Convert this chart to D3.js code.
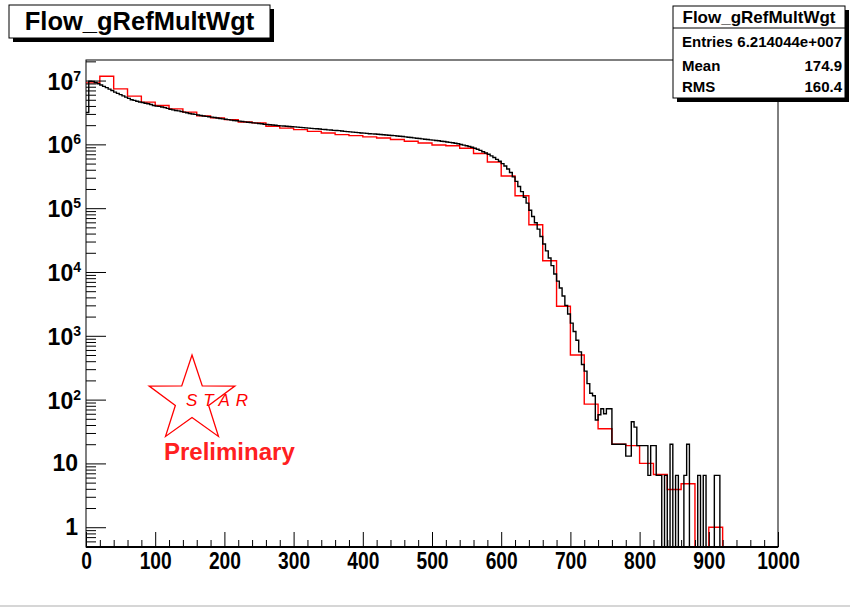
<!DOCTYPE html>
<html>
<head>
<meta charset="utf-8">
<script src="https://cdn.jsdelivr.net/npm/d3@7"></script>
<style>
body { margin: 0; background: #fff; }
text { font-family: "Liberation Sans", Arial, sans-serif; font-weight: bold; }
</style>
</head>
<body>
<script>
// black histogram, 250 bins of width 4 over 0..1000
var blackBinWidth = 4;
var blackCounts = [
  3.16e6, 9.77e6, 9.7e6, 9.33e6, 8.9e6, 8.5e6, 8.1e6, 7.75e6, 7.33e6, 7.0e6,
  6.6e6, 6.3e6, 6.03e6, 5.75e6, 5.5e6, 5.25e6, 5.0e6, 4.9e6, 4.73e6, 4.62e6,
  4.52e6, 4.42e6, 4.32e6, 4.22e6, 4.07e6, 3.98e6, 3.94e6, 3.85e6, 3.76e6, 3.67e6,
  3.55e6, 3.47e6, 3.39e6, 3.35e6, 3.27e6, 3.2e6, 3.13e6, 3.05e6, 3.0e6, 2.95e6,
  2.88e6, 2.84e6, 2.79e6, 2.75e6, 2.71e6, 2.67e6, 2.63e6, 2.59e6, 2.55e6, 2.51e6,
  2.47e6, 2.44e6, 2.40e6, 2.37e6, 2.34e6, 2.31e6, 2.28e6, 2.25e6, 2.22e6, 2.20e6,
  2.17e6, 2.15e6, 2.12e6, 2.10e6, 2.07e6, 2.05e6, 2.03e6, 2.01e6, 1.99e6, 1.97e6,
  1.95e6, 1.94e6, 1.92e6, 1.905e6, 1.89e6, 1.88e6, 1.86e6, 1.845e6, 1.83e6, 1.815e6,
  1.80e6, 1.78e6, 1.766e6, 1.754e6, 1.74e6, 1.72e6, 1.71e6, 1.69e6, 1.68e6, 1.66e6,
  1.65e6, 1.64e6, 1.62e6, 1.60e6, 1.585e6, 1.57e6, 1.556e6, 1.54e6, 1.53e6, 1.51e6,
  1.50e6, 1.486e6, 1.47e6, 1.46e6, 1.45e6, 1.44e6, 1.426e6, 1.416e6, 1.40e6, 1.39e6,
  1.38e6, 1.37e6, 1.355e6, 1.34e6, 1.325e6, 1.31e6, 1.294e6, 1.28e6, 1.265e6, 1.25e6,
  1.233e6, 1.22e6, 1.205e6, 1.19e6, 1.178e6, 1.164e6, 1.15e6, 1.138e6, 1.122e6, 1.107e6,
  1.09e6, 1.076e6, 1.06e6, 1.04e6, 1.02e6, 9.95e5, 9.73e5, 9.5e5, 9.25e5, 9.0e5,
  8.7e5, 8.4e5, 8.04e5, 7.67e5, 7.33e5, 7.0e5, 6.6e5, 6.24e5, 5.82e5, 5.43e5,
  5.0e5, 4.57e5, 4.12e5, 3.63e5, 3.09e5, 2.63e5, 2.19e5, 1.82e5, 1.48e5, 1.2e5,
  9.3e4, 7.4e4, 5.9e4, 4.7e4, 3.6e4, 2.75e4, 2.14e4, 1.66e4, 1.26e4, 9.3e3,
  7.2e3, 5.6e3, 4.2e3, 3.0e3, 2.2e3, 1.58e3, 1.17e3, 850, 560, 355,
  280, 178, 126, 115, 48, 58, 72, 60, 72, 72,
  20, 20, 20, 20, 20, 13, 13, 45, 37, 19,
  19, 19, 19, 6.5, 19, 19, 6.5, 6.5, 0, 6.5,
  0, 20, 0, 6.5, 0, 0, 6.5, 20, 0, 0,
  0, 6.5, 0, 6.5, 0, 0, 0, 6.5, 6.5, 0,
  0, 0, 0, 0, 0, 0, 0, 0, 0, 0,
  0, 0, 0, 0, 0, 0, 0, 0, 0, 0
];

// red histogram, 50 bins of width 20
var redBinWidth = 20;
var redCounts = [
  9.2e6, 1.17e7, 7.4e6, 5.7e6, 4.6e6, 4.06e6, 3.6e6, 3.2e6, 2.8e6, 2.6e6,
  2.44e6, 2.24e6, 2.17e6, 1.92e6, 1.8e6, 1.7e6, 1.6e6, 1.51e6, 1.42e6, 1.37e6,
  1.31e6, 1.26e6, 1.19e6, 1.12e6, 1.05e6, 9.8e5, 9.5e5, 8.7e5, 7.2e5, 5.3e5,
  3.2e5, 1.57e5, 5.5e4, 1.5e4, 2.9e3, 500, 85, 35, 20, 19,
  10, 6.7, 3.9, 4.8, 0, 1, 0, 0, 0, 0
];

// axis ticks and labels
var xMajor = [0, 100, 200, 300, 400, 500, 600, 700, 800, 900, 1000];
var yDecades = [0, 1, 2, 3, 4, 5, 6, 7];

// title and stats box texts
var histTitle = "Flow_gRefMultWgt";
var statNames = ["Entries", "Mean", "RMS"];
var statValues = ["6.214044e+007", "174.9", "160.4"];

//create svg
var svg = d3.select("body").append("svg")
    .attr("width", 850)
    .attr("height", 610);

//frame
var frame = {left: 86, right: 778, top: 60, bottom: 547};

var x = d3.scaleLinear().domain([0, 1000]).range([frame.left, frame.right]);
var y = d3.scaleLog().domain([0.49, 2.1e7]).range([frame.bottom, frame.top]);

svg.append("clipPath").attr("id", "clip")
  .append("rect")
    .attr("x", frame.left).attr("y", frame.top)
    .attr("width", frame.right - frame.left)
    .attr("height", frame.bottom - frame.top);

svg.append("rect")
    .attr("x", frame.left).attr("y", frame.top)
    .attr("width", frame.right - frame.left)
    .attr("height", frame.bottom - frame.top)
    .attr("fill", "none").attr("stroke", "#000").attr("stroke-width", 1);

//step line for a histogram; empty bins drop below the frame
function histPath(counts, w) {
  var pts = counts.map(function(c, i) { return [i * w, c]; });
  pts.push([counts.length * w, counts[counts.length - 1]]);
  return d3.line()
    .curve(d3.curveStepAfter)
    .x(function(d) { return x(d[0]); })
    .y(function(d) { return y(d[1] > 0 ? d[1] : 0.05); })(pts);
}

var plot = svg.append("g").attr("clip-path", "url(#clip)");

plot.append("path")
    .attr("d", histPath(redCounts, redBinWidth))
    .attr("fill", "none").attr("stroke", "#ff0000").attr("stroke-width", 1.4);

plot.append("path")
    .attr("d", histPath(blackCounts, blackBinWidth))
    .attr("fill", "none").attr("stroke", "#000").attr("stroke-width", 1.4);

// x axis: major ticks every 100, minor every 20, drawn inward
var xMinor = d3.range(0, 1001, 20).filter(function(v) { return v % 100 != 0; });
svg.append("g")
    .attr("transform", "translate(0," + frame.bottom + ")")
    .call(d3.axisBottom(x).tickValues(xMinor).tickSize(-7).tickFormat(""))
    .call(function(g) { g.select(".domain").remove(); });

var xAxis = svg.append("g")
    .attr("transform", "translate(0," + frame.bottom + ")")
    .call(d3.axisBottom(x).tickValues(xMajor).tickSize(-15).tickPadding(4).tickFormat(d3.format("d")));
xAxis.select(".domain").remove();
xAxis.selectAll("line").attr("stroke-width", 1);
xAxis.selectAll("text")
    .attr("font-size", 24)
    .attr("fill", "#000")
    .attr("dy", "0.76em")
    .attr("font-family", "Liberation Sans, Arial, sans-serif")
    .attr("font-weight", "bold")
    .attr("transform", "scale(0.8,1)");

// bottom axis line is heavier
svg.append("line")
    .attr("x1", frame.left).attr("x2", frame.right)
    .attr("y1", frame.bottom).attr("y2", frame.bottom)
    .attr("stroke", "#000").attr("stroke-width", 2);

// y axis: decades and minor ticks 2..9
var yMajor = yDecades.map(function(e) { return Math.pow(10, e); });
var yMinor = [];
for (var e = -1; e <= 7; e++) {
  for (var m = 2; m <= 9; m++) {
    var v = m * Math.pow(10, e);
    if (v >= y.domain()[0] && v <= y.domain()[1]) yMinor.push(v);
  }
}
svg.append("g")
    .attr("transform", "translate(" + frame.left + ",0)")
    .call(d3.axisLeft(y).tickValues(yMinor).tickSize(-10).tickFormat(""))
    .call(function(g) { g.select(".domain").remove(); });
svg.append("g")
    .attr("transform", "translate(" + frame.left + ",0)")
    .call(d3.axisLeft(y).tickValues(yMajor).tickSize(-20).tickFormat(""))
    .call(function(g) { g.select(".domain").remove(); });

// y labels with superscript exponents
yDecades.forEach(function(e) {
  var ty = y(Math.pow(10, e));
  if (e <= 1) {
    svg.append("text")
        .attr("x", 78).attr("y", ty + 8)
        .attr("text-anchor", "end")
        .attr("font-size", 23)
        .text(e == 0 ? "1" : "10");
  } else {
    var t = svg.append("text")
        .attr("x", 81).attr("y", ty + 9)
        .attr("text-anchor", "end")
        .attr("font-size", 23);
    t.append("tspan").text("10");
    t.append("tspan").attr("dy", -9).attr("font-size", 14).text(e);
  }
});

// histogram title box with shadow
svg.append("rect").attr("x", 13).attr("y", 9).attr("width", 261).attr("height", 33).attr("fill", "#000");
svg.append("rect").attr("x", 9).attr("y", 5).attr("width", 261).attr("height", 33)
    .attr("fill", "#fff").attr("stroke", "#000").attr("stroke-width", 1);
svg.append("text")
    .attr("x", 139.5).attr("y", 30)
    .attr("text-anchor", "middle")
    .attr("font-size", 25.5)
    .text(histTitle);

// stats box
var sb = {x: 673, y: 6, w: 172, h: 92};
svg.append("rect").attr("x", sb.x + 4).attr("y", sb.y + 4).attr("width", sb.w).attr("height", sb.h).attr("fill", "#000");
svg.append("rect").attr("x", sb.x).attr("y", sb.y).attr("width", sb.w).attr("height", sb.h)
    .attr("fill", "#fff").attr("stroke", "#000").attr("stroke-width", 1);
svg.append("line")
    .attr("x1", sb.x).attr("x2", sb.x + sb.w)
    .attr("y1", 28).attr("y2", 28)
    .attr("stroke", "#000");
svg.append("text")
    .attr("x", sb.x + sb.w / 2).attr("y", 23)
    .attr("text-anchor", "middle")
    .attr("font-size", 17)
    .text(histTitle);
var rowY = [47, 71, 92];
statNames.forEach(function(n, i) {
  svg.append("text").attr("x", sb.x + 9).attr("y", rowY[i]).attr("font-size", 15).text(n);
  svg.append("text").attr("x", sb.x + sb.w - 3).attr("y", rowY[i])
      .attr("text-anchor", "end").attr("font-size", 15).text(statValues[i]);
});

// STAR preliminary logo
var cx = 192, cy = 400, R = 45, r = 17.5;
var star = d3.range(10).map(function(k) {
  var a = -Math.PI / 2 + k * Math.PI / 5;
  var rad = k % 2 == 0 ? R : r;
  return [cx + rad * Math.cos(a), cy + rad * Math.sin(a)];
});
svg.append("path")
    .attr("d", d3.line()(star) + "Z")
    .attr("fill", "none").attr("stroke", "#ff0000").attr("stroke-width", 1.3);
svg.append("text")
    .attr("x", 186).attr("y", 406)
    .attr("font-size", 17)
    .style("font-weight", "normal")
    .style("font-style", "italic")
    .attr("letter-spacing", 6)
    .attr("fill", "#ff0000")
    .text("STAR");
svg.append("text")
    .attr("x", 164).attr("y", 460)
    .attr("font-size", 24)
    .attr("fill", "#ff2020")
    .text("Preliminary");

// bottom canvas edge
svg.append("line")
    .attr("x1", 0).attr("x2", 850)
    .attr("y1", 606).attr("y2", 606)
    .attr("stroke", "#c8c8c8").attr("stroke-width", 1.5);
</script>
</body>
</html>
